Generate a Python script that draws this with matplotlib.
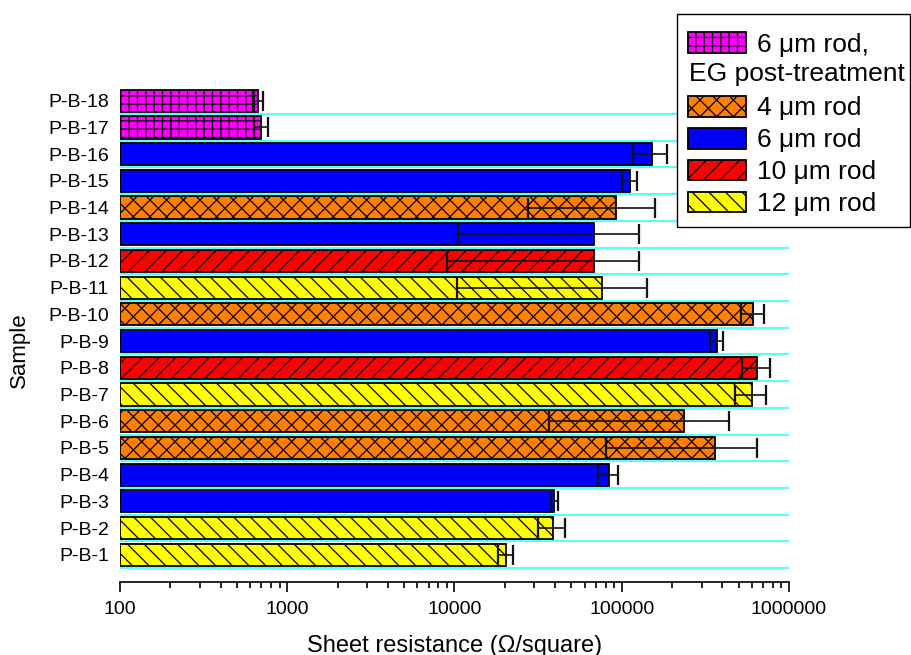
import matplotlib
matplotlib.use("Agg")
import matplotlib.pyplot as plt
import matplotlib.ticker as mticker
from matplotlib.patches import Patch, Rectangle
import numpy as np

plt.rcParams['font.family'] = ['Liberation Sans', 'DejaVu Sans']
plt.rcParams['hatch.linewidth'] = 0.9

samples = [f"P-B-{i}" for i in range(1, 19)]
values = [20300, 38600, 39500, 83600, 361000, 236600, 604000, 647000, 370000,
          612000, 75900, 68000, 68500, 92500, 112000, 151800, 700, 668]
errors = [2000, 7200, 1800, 11700, 281000, 200000, 128000, 124000, 34000,
          95000, 65500, 59000, 58000, 65000, 11000, 35000, 70, 45]
groups = ["12", "12", "6", "6", "4", "4", "12", "10", "6",
          "4", "12", "10", "6", "4", "6", "6", "6EG", "6EG"]

styles = {
    "6EG": dict(color="#FF00FF", hatch="++"),
    "4": dict(color="#FF8000", hatch="xx"),
    "6": dict(color="#0000FF", hatch=None),
    "10": dict(color="#FF0000", hatch="//"),
    "12": dict(color="#FFFF00", hatch="\\\\"),
}
legend_order = ["6EG", "4", "6", "10", "12"]
legend_labels = {"6EG": "6 \u03bcm rod,", "4": "4 \u03bcm rod", "6": "6 \u03bcm rod",
                 "10": "10 \u03bcm rod", "12": "12 \u03bcm rod"}

xmin, xmax = 100, 1000000

fig = plt.figure(figsize=(9.11, 6.55), dpi=100)
ax = fig.add_axes([120/911, 1-581.5/655, 669/911, (581.5-74)/655])

ypos = np.arange(1, len(samples)+1)
for y, v, e, g in zip(ypos, values, errors, groups):
    st = styles[g]
    ax.barh(y, v - xmin, left=xmin, height=0.83, color=st["color"],
            edgecolor="black", linewidth=1.3, hatch=st["hatch"], zorder=2)
ax.errorbar(values, ypos, xerr=errors, fmt="none", ecolor="#111111",
            elinewidth=1.2, capsize=7, capthick=1.6, zorder=3)

ax.set_xscale("log")
ax.set_xlim(xmin, xmax)
ax.set_ylim(0, 19)
ax.set_yticks(ypos)
ax.set_yticklabels(samples, fontsize=14)
ax.set_yticks(np.arange(0.5, 18.0, 1.0), minor=True)
ax.tick_params(axis="y", which="both", length=0, pad=8)
ax.grid(True, axis="y", which="minor", color="#33FFFF", linewidth=1.2, zorder=0)
ax.set_axisbelow(True)

ax.xaxis.set_major_locator(mticker.LogLocator(base=10, numticks=10))
ax.xaxis.set_major_formatter(mticker.FuncFormatter(lambda x, p: f"{int(round(x))}"))
ax.xaxis.set_minor_locator(mticker.LogLocator(base=10, subs=np.arange(2, 10), numticks=20))
ax.xaxis.set_minor_formatter(mticker.NullFormatter())
ax.tick_params(axis="x", which="major", labelsize=14, length=7, width=1.2, pad=7, direction="out")
ax.tick_params(axis="x", which="minor", length=4, width=1.2, direction="out")

for s in ["top", "right", "left"]:
    ax.spines[s].set_visible(False)
ax.spines["bottom"].set_linewidth(1.2)

ax.set_xlabel("Sheet resistance (\u03a9/square)", fontsize=17, labelpad=12)
ax.set_ylabel("Sample", fontsize=16)
ax.yaxis.set_label_coords(-0.135, 0.456)

handles = []
labels = []
for g in legend_order:
    st = styles[g]
    handles.append(Patch(facecolor=st["color"], edgecolor="black", linewidth=1.3, hatch=st["hatch"]))
    labels.append(legend_labels[g])
    if g == "6EG":
        handles.append(Patch(facecolor="none", edgecolor="none"))
        labels.append(" ")

W, H = 911, 655
# legend frame drawn separately
frame = Rectangle((677/W, 1-227/H), 233/W, 213/H, transform=fig.transFigure,
                  facecolor="white", edgecolor="black", linewidth=1.0,
                  clip_on=False, zorder=4)
ax.add_patch(frame)

fs = 19
lx0, ly1 = 675/W, 1-19/H
lw, lh = 233/W, 205/H
leg = ax.legend(handles, labels, loc="upper left",
                bbox_to_anchor=(lx0, ly1 - lh, lw, lh), bbox_transform=fig.transFigure,
                mode="expand", borderaxespad=0, fontsize=fs, frameon=False,
                handlelength=2.2, handleheight=0.83,
                handletextpad=0.4, labelspacing=0.28, borderpad=0.5)
leg.set_zorder(5)

fig.canvas.draw()
r = fig.canvas.get_renderer()
h0 = leg.legend_handles[0].get_window_extent(r)
h2 = leg.legend_handles[2].get_window_extent(r)
yc0 = (h0.y0 + h0.y1) / 2
yc2 = (h2.y0 + h2.y1) / 2
ymid = (yc0 + yc2) / 2
fig.text((h0.x0 + 1) / fig.bbox.width, ymid / fig.bbox.height, "EG post-treatment",
         fontsize=fs, ha="left", va="center", zorder=10)

fig.savefig("out.png", dpi=100)
